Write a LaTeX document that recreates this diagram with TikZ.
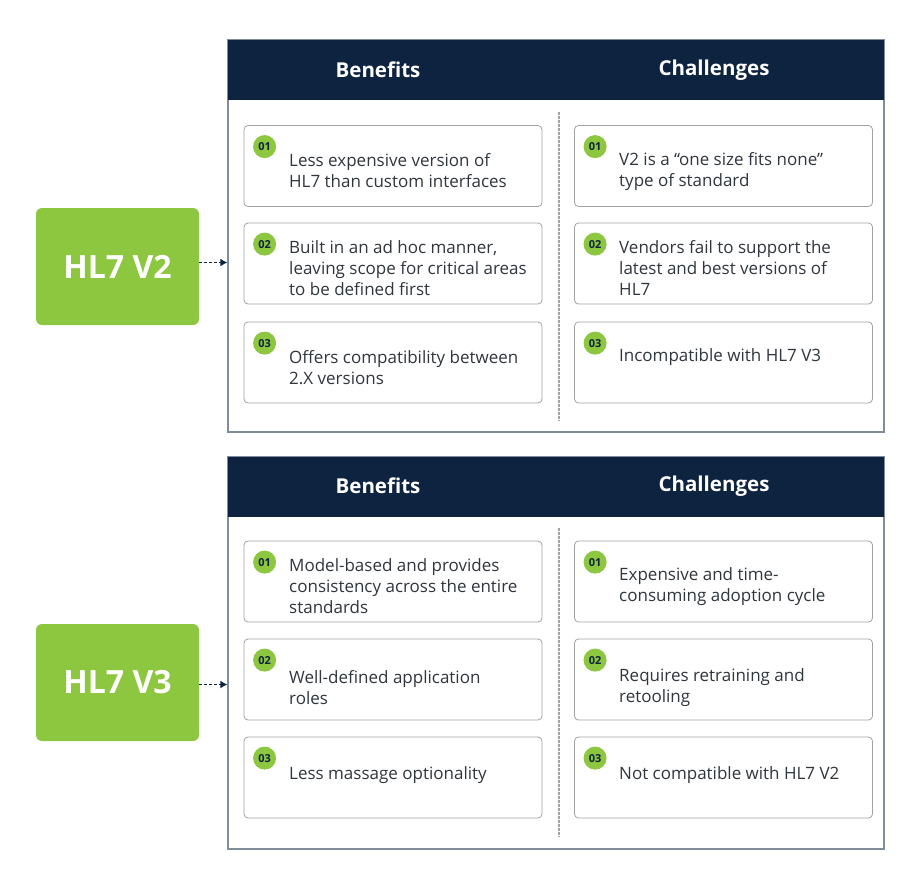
\documentclass[tikz,border=0pt]{standalone}
\usepackage{fontspec}
\setmainfont{Open Sans}
\usetikzlibrary{arrows.meta}
\definecolor{navy}{HTML}{0D2340}
\definecolor{hlgreen}{HTML}{8DC63F}
\definecolor{cardgray}{HTML}{9EA3A8}
\definecolor{panelgray}{HTML}{7F8C99}
\definecolor{txt}{HTML}{30363E}
\tikzset{
  panel/.style={draw=panelgray, line width=1.2pt, fill=white, minimum width=656pt, inner sep=0pt},
  head/.style={fill=navy, minimum width=656pt, minimum height=60pt, inner sep=0pt, anchor=north west},
  headtxt/.style={text=white, font=\fontsize{20.5}{24}\selectfont\bfseries},
  card/.style={draw=cardgray, line width=0.8pt, rounded corners=4pt, minimum width=298pt, minimum height=81pt, inner sep=0pt, fill=white},
  badge/.style={circle, fill=hlgreen, minimum size=23pt, inner sep=0pt, text=navy, font=\fontsize{11}{13}\selectfont\bfseries},
  btext/.style={anchor=west, align=left, text=txt, inner sep=0pt, font=\fontsize{17}{21}\selectfont},
  hlbox/.style={fill=hlgreen, rounded corners=6pt, minimum width=163pt, minimum height=117pt, text=white, font=\fontsize{32}{36}\selectfont\bfseries},
  divider/.style={draw=cardgray, line width=1.2pt, dash pattern=on 2.5pt off 1.5pt},
  conn/.style={draw=navy, line width=1.6pt, dash pattern=on 3pt off 2pt, -{Latex[length=7pt,width=8pt]}}
}
\begin{document}
\begin{tikzpicture}[x=1pt,y=-1pt]
\useasboundingbox (0,0) rectangle (913,876);
\fill[white] (0,0) rectangle (913,876);

% ---------- Panel 1 ----------
\node[panel, minimum height=392pt] (p1) at (556,236) {};
\node[head] (h1) at (p1.north west) {};
\node[headtxt] (h1b) at (378,70) {Benefits};
\node[headtxt] (h1c) at (714,70) {Challenges};
\coordinate (d1t) at (559,112);
\coordinate (d1b) at (559,421);
\draw[divider] (d1t) -- (d1b);

\node[card] (c1l1) at (393,166) {};
\node[card] (c1l2) at (393,263.5) {};
\node[card] (c1l3) at (393,362.5) {};
\node[card] (c1r1) at (723.5,166) {};
\node[card] (c1r2) at (723.5,263.5) {};
\node[card] (c1r3) at (723.5,362.5) {};

\foreach \n/\t in {c1l1/01,c1l2/02,c1l3/03,c1r1/01,c1r2/02,c1r3/03}
  \node[badge] (\n b) at ([xshift=21pt,yshift=-21.5pt]\n.north west) {\t};

\node[btext] (t1l1) at (289,170.5) {Less expensive version of\\HL7 than custom interfaces};
\node[btext] (t1l2) at (289,268) {Built in an ad hoc manner,\\leaving scope for critical areas\\to be defined first};
\node[btext] (t1l3) at (289,367.5) {Offers compatibility between\\2.X versions};
\node[btext] (t1r1) at (619,171.5) {V2 is a “one size fits none”\\type of standard};
\node[btext] (t1r2) at (619,268) {Vendors fail to support the\\latest and best versions of\\HL7};
\node[btext] (t1r3) at (619,357) {Incompatible with HL7 V3};

\node[hlbox] (v2) at (117.5,266.5) {HL7 V2};
\draw[conn] ([yshift=4pt]v2.east) -- ([yshift=4pt]v2.east -| p1.west);

% ---------- Panel 2 ----------
\node[panel, minimum height=392pt] (p2) at (556,653) {};
\node[head] (h2) at (p2.north west) {};
\node[headtxt] (h2b) at (378,486) {Benefits};
\node[headtxt] (h2c) at (714,486) {Challenges};
\coordinate (d2t) at (559,528);
\coordinate (d2b) at (559,837);
\draw[divider] (d2t) -- (d2b);

\node[card] (c2l1) at (393,581.5) {};
\node[card] (c2l2) at (393,679.5) {};
\node[card] (c2l3) at (393,777.5) {};
\node[card] (c2r1) at (723.5,581.5) {};
\node[card] (c2r2) at (723.5,679.5) {};
\node[card] (c2r3) at (723.5,777.5) {};

\foreach \n/\t in {c2l1/01,c2l2/02,c2l3/03,c2r1/01,c2r2/02,c2r3/03}
  \node[badge] (\n b) at ([xshift=21pt,yshift=-21.5pt]\n.north west) {\t};

\node[btext] (t2l1) at (289,586) {Model-based and provides\\consistency across the entire\\standards};
\node[btext] (t2l2) at (289,687.5) {Well-defined application\\roles};
\node[btext] (t2l3) at (289,775) {Less massage optionality};
\node[btext] (t2r1) at (619,586.5) {Expensive and time-\\consuming adoption cycle};
\node[btext] (t2r2) at (619,687.5) {Requires retraining and\\retooling};
\node[btext] (t2r3) at (619,775) {Not compatible with HL7 V2};

\node[hlbox] (v3) at (117.5,682.5) {HL7 V3};
\draw[conn] ([yshift=-2pt]v3.east) -- ([yshift=-2pt]v3.east -| p2.west);
\end{tikzpicture}
\end{document}
